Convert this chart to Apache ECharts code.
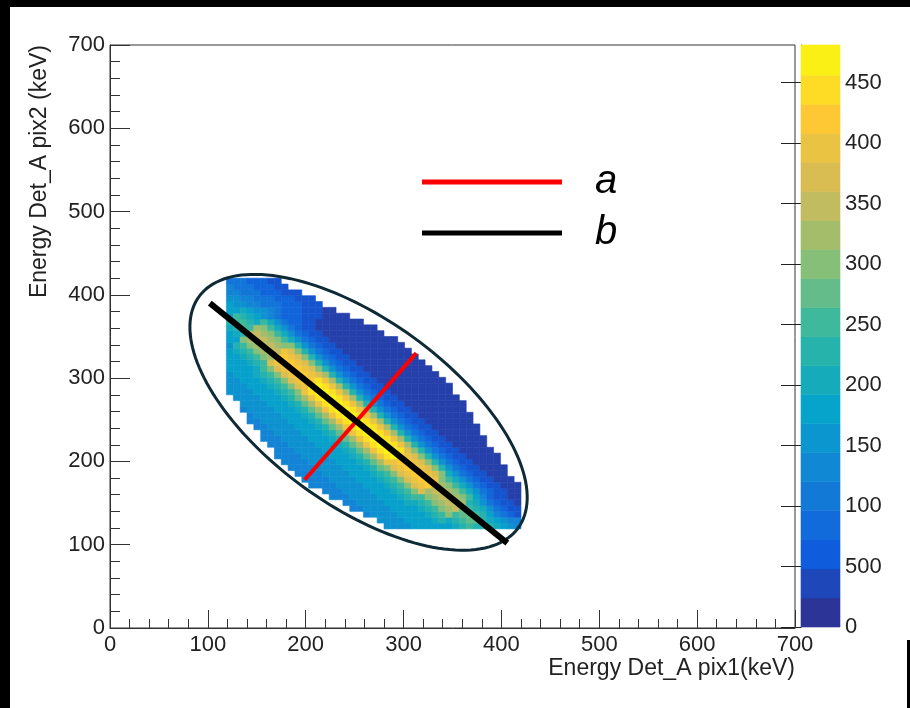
<!DOCTYPE html>
<html>
<head>
<meta charset="utf-8">
<script src="https://cdn.jsdelivr.net/npm/echarts@6/dist/echarts.min.js"></script>
<style>
html,body{margin:0;padding:0;background:#fff;}
#wrap{position:relative;width:910px;height:708px;overflow:hidden;background:#fff;}
#chart{position:absolute;left:0;top:0;width:910px;height:708px;}
.bar{position:absolute;background:#000;}
</style>
</head>
<body>
<div id="wrap">
  <div id="chart"></div>
  <div class="bar" style="left:0;top:0;width:910px;height:7px"></div>
  <div class="bar" style="left:0;top:0;width:10px;height:708px"></div>
  <div class="bar" style="left:907px;top:640px;width:3px;height:68px"></div>
</div>
<script>
// ---------------- data ----------------
// 2D histogram: bins of 7 keV, first bin edge at 119 keV on both axes.
const BIN_WIDTH = 7;
const X_FIRST_BIN = 119;
const Y_FIRST_BIN = 119;
// level characters -> counts
const LEVEL_CHARS = '0123456789ABCDEFGHIJ';
const LEVEL_VALUES = [0,25,50,75,100,125,150,175,200,225,250,275,300,325,350,375,400,425,450,475];
// row j (bottom to top): first filled x-bin index, then levels of consecutive bins
const ROW_START = [23,22,20,18,17,15,14,12,11,10,9,8,7,7,6,5,5,4,3,3,2,2,1,0,0,0,0,0,0,0,0,0,0,0,0,0,0,0,0,0,0,0,0];
const ROW_LEVELS = [
  "666677777789A9998765",
  "666677778989ABB987655",
  "56666777789ACABBA975432",
  "556666777789ACDEBA9864322",
  "556666777889ACDEED98643221",
  "555666677789AACDEEDCA7532211",
  "555666677789ACFDEEDCA86432211",
  "5555666677789ACFGHEDCA864322111",
  "5555666677789ACFGHHGCA864322111",
  "5555666677789ACFGHHGFC864322111",
  "5555666677789BCFGHHGFC9643221111",
  "5555666677789BDGGHHGFC9643221111",
  "5555666677789BDGIJHGFC96432211111",
  "555666677789BDGIJJIFC96432211111",
  "555666677789BDGIJJIGD96432211111",
  "555666677789BDGIJJIGD964322111111",
  "55666677789BDGIJJIGD964322111111",
  "55666677789BDGIJJIGD9643221111111",
  "55666677789BDGIJJIGD9643221111111",
  "5666677789BDGIJJIGD96432211111111",
  "5666677789BDGIJJIGD96432211111111",
  "666677789BDGIJJIGD964322111111111",
  "666677789BDGIJJIGD964322111111111",
  "666677789ACGIJJIGD964322111111111",
  "66677789ACFGJJIGD9643221111111111",
  "6677789ACFGHHIGD9643221111111111",
  "677789ACFGHHGFD9643221111111111",
  "77778ACFGHHGFC9643221111111111",
  "77789AFGHHGFC9643221111111111",
  "7789ACDHHGFC9643221111111111",
  "789ACDEEGFC9643221111111111",
  "69ACDEEDCC9643221111111111",
  "77CDEEDCA8643221111111111",
  "789EEDCA864322111111111",
  "89AADCA864322111111111",
  "9AA98A86433221111111",
  "7A9876543332221111",
  "7787665433322211",
  "76655444333222",
  "6655444333222",
  "55444333222",
  "544433322",
  "44433322"
];
// drawn annotation lines (keV)
const LINE_A = [[199, 178], [313, 330]];
const LINE_B = [[102, 390], [406, 102]];
// ellipse: centre, tip of major semi-axis, tip of minor semi-axis (keV)
const ELLIPSE_CENTER = [254, 259];
const ELLIPSE_MAJOR_TIP = [417, 120];
const ELLIPSE_MINOR_TIP = [310, 349];
// colour bar
const CB_MAX = 481;
const CB_EDGES = [0,24,48,72,96,120,144,168,192,216,240,264,288,312,336,360,384,408,432,456,481];
const CB_TICKS = [0,50,100,150,200,250,300,350,400,450];
const CB_TICK_LABELS = ['0','500','100','150','200','250','300','350','400','450'];
const BIRD = ['#352a87','#0f5cdd','#1481d6','#06a4ca','#2eb7a4','#87bf77','#d1bb59','#fec832','#f9fb0e'];
const X_TITLE = 'Energy Det_A pix1(keV)';
const Y_TITLE = 'Energy Det_A pix2 (keV)';
const LEGEND_NAMES = ['a', 'b'];

// ---------------- build ----------------
const cells = [];
ROW_LEVELS.forEach(function (row, j) {
  for (let n = 0; n < row.length; n++) {
    const ch = row[n];
    if (ch === '.') continue;
    const i = ROW_START[j] + n;
    cells.push([X_FIRST_BIN + i * BIN_WIDTH, Y_FIRST_BIN + j * BIN_WIDTH, LEVEL_VALUES[LEVEL_CHARS.indexOf(ch)]]);
  }
});
const cbBands = [];
for (let b = 0; b < CB_EDGES.length - 1; b++) {
  cbBands.push([CB_EDGES[b], CB_EDGES[b + 1], (CB_EDGES[b] + CB_EDGES[b + 1]) / 2]);
}

const FONT = "'Liberation Sans', Arial, Helvetica, sans-serif";
const chart = echarts.init(document.getElementById('chart'), null, {renderer: 'canvas'});

const mainAxisCommon = {
  type: 'value', min: 0, max: 700, interval: 100,
  axisLine: {show: true, onZero: false, lineStyle: {color: '#333', width: 1}},
  splitLine: {show: false}, minorSplitLine: {show: false},
  axisLabel: {fontSize: 22, color: '#222', fontFamily: FONT}
};

const option = {
  animation: false,
  backgroundColor: 'transparent',
  textStyle: {fontFamily: FONT},
  grid: [
    {left: 110, top: 45, width: 685, height: 583, show: true, borderColor: '#333', borderWidth: 1, backgroundColor: 'transparent'},
    {left: 801, top: 45, width: 39, height: 582, show: false}
  ],
  xAxis: [
    Object.assign({}, mainAxisCommon, {
      gridIndex: 0,
      axisTick: {show: true, inside: true, length: 18, lineStyle: {color: '#333'}},
      minorTick: {show: true, splitNumber: 5, length: 9, lineStyle: {color: '#333'}},
      axisLabel: {fontSize: 22, color: '#222', fontFamily: FONT, margin: 6}
    }),
    {gridIndex: 1, type: 'value', min: 0, max: 1, show: false}
  ],
  yAxis: [
    Object.assign({}, mainAxisCommon, {
      gridIndex: 0,
      axisTick: {show: true, inside: true, length: 20, lineStyle: {color: '#333'}},
      minorTick: {show: true, splitNumber: 5, length: 10, lineStyle: {color: '#333'}},
      axisLabel: {fontSize: 22, color: '#222', fontFamily: FONT, margin: 5}
    }),
    {
      gridIndex: 1, type: 'value', position: 'right', min: 0, max: CB_MAX,
      axisLine: {show: true, lineStyle: {color: '#111', width: 1}},
      axisTick: {show: true, inside: true, length: 20, customValues: CB_TICKS, lineStyle: {color: '#222'}},
      axisLabel: {
        show: true, customValues: CB_TICKS, fontSize: 22, color: '#222', fontFamily: FONT, margin: 5,
        formatter: function (v) { const k = CB_TICKS.indexOf(v); return k >= 0 ? CB_TICK_LABELS[k] : ''; }
      },
      splitLine: {show: false}
    }
  ],
  visualMap: {
    type: 'continuous', show: false, min: 0, max: CB_MAX, dimension: 2,
    seriesIndex: [0, 4], inRange: {color: BIRD}
  },
  legend: {
    orient: 'vertical', left: 422, top: 162, padding: 0, itemGap: 11,
    itemWidth: 140, itemHeight: 5, selectedMode: false,
    data: [{name: LEGEND_NAMES[0], icon: 'rect'}, {name: LEGEND_NAMES[1], icon: 'rect'}],
    textStyle: {fontSize: 40, fontStyle: 'italic', fontFamily: FONT, color: '#000', lineHeight: 40, padding: [0, 0, 0, 28]}
  },
  graphic: [
    {type: 'text', x: 795, y: 669, z: 10,
     style: {text: X_TITLE, fill: '#222', font: "23px " + FONT, align: 'right', verticalAlign: 'middle', textAlign: 'right', textVerticalAlign: 'middle'}},
    {type: 'text', x: 40, y: 45, rotation: Math.PI / 2, z: 10,
     style: {text: Y_TITLE, fill: '#222', font: "23px " + FONT, align: 'right', verticalAlign: 'middle', textAlign: 'right', textVerticalAlign: 'middle'}}
  ],
  series: [
    {
      type: 'custom', name: 'hist', xAxisIndex: 0, yAxisIndex: 0, z: 1,
      dimensions: ['x', 'y', 'v'], encode: {x: 0, y: 1},
      data: cells,
      renderItem: function (params, api) {
        const x = api.value(0), y = api.value(1);
        const p0 = api.coord([x, y + BIN_WIDTH]);
        const p1 = api.coord([x + BIN_WIDTH, y]);
        const c = api.visual('color');
        return {type: 'rect', shape: {x: p0[0], y: p0[1], width: p1[0] - p0[0], height: p1[1] - p0[1]},
                style: {fill: c, stroke: c, lineWidth: 0.6}};
      }
    },
    {
      type: 'custom', name: 'ellipse', xAxisIndex: 0, yAxisIndex: 0, z: 3,
      data: [ELLIPSE_CENTER],
      renderItem: function (params, api) {
        const c = api.coord(ELLIPSE_CENTER), p = api.coord(ELLIPSE_MAJOR_TIP), q = api.coord(ELLIPSE_MINOR_TIP);
        const pts = [];
        const N = 160;
        for (let s = 0; s <= N; s++) {
          const t = 2 * Math.PI * s / N;
          pts.push([c[0] + Math.cos(t) * (p[0] - c[0]) + Math.sin(t) * (q[0] - c[0]),
                    c[1] + Math.cos(t) * (p[1] - c[1]) + Math.sin(t) * (q[1] - c[1])]);
        }
        return {type: 'polyline', shape: {points: pts}, style: {fill: null, stroke: '#0e2a36', lineWidth: 3}};
      }
    },
    {
      type: 'line', name: LEGEND_NAMES[0], xAxisIndex: 0, yAxisIndex: 0, z: 4,
      data: LINE_A, symbol: 'none', silent: true,
      itemStyle: {color: '#ff0000'}, lineStyle: {color: '#ff0000', width: 4}
    },
    {
      type: 'line', name: LEGEND_NAMES[1], xAxisIndex: 0, yAxisIndex: 0, z: 5,
      data: LINE_B, symbol: 'none', silent: true,
      itemStyle: {color: '#000000'}, lineStyle: {color: '#000000', width: 6}
    },
    {
      type: 'custom', name: 'colorbar', xAxisIndex: 1, yAxisIndex: 1, z: 1,
      dimensions: ['lo', 'hi', 'v'],
      data: cbBands,
      renderItem: function (params, api) {
        const lo = api.value(0), hi = api.value(1);
        const p0 = api.coord([0, hi]);
        const p1 = api.coord([1, lo]);
        const c = api.visual('color');
        return {type: 'rect', shape: {x: p0[0], y: p0[1], width: p1[0] - p0[0], height: p1[1] - p0[1]},
                style: {fill: c, stroke: c, lineWidth: 0.6}};
      }
    }
  ]
};
chart.setOption(option);
</script>
</body>
</html>
